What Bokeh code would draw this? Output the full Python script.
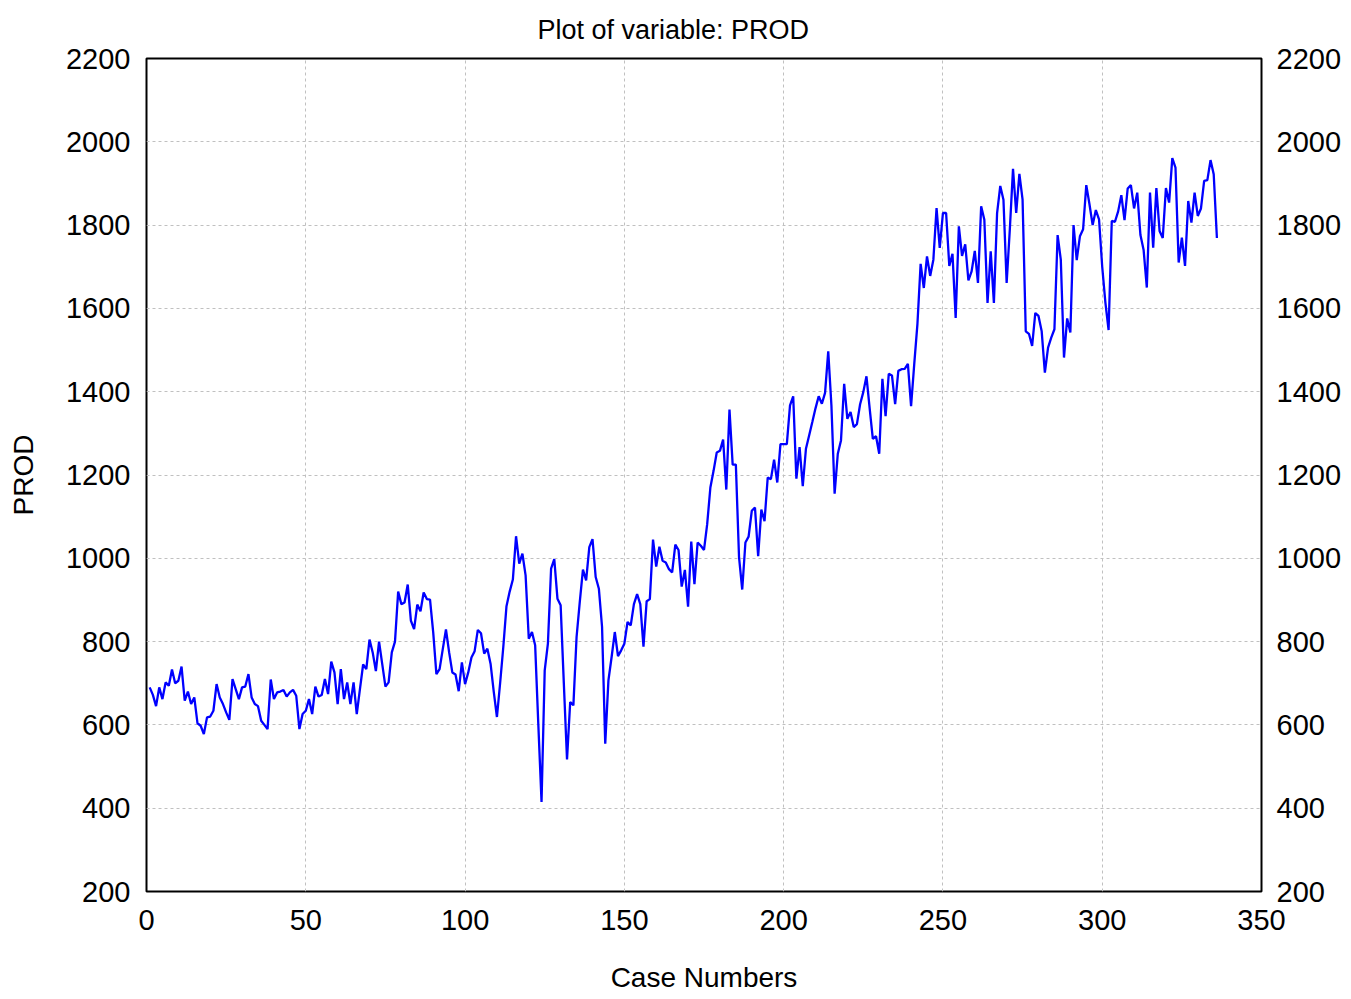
from bokeh.plotting import figure
from bokeh.models import LinearAxis, FixedTicker, Range1d
from bokeh.embed import file_html
from bokeh.resources import INLINE

prod = [
    690, 672, 645, 690, 662, 702, 694, 733, 700, 706,
    740, 658, 680, 650, 666, 604, 598, 578, 618, 620,
    634, 698, 666, 650, 630, 612, 710, 686, 662, 690,
    692, 722, 666, 650, 645, 610, 600, 590, 709, 662,
    678, 680, 684, 668, 678, 684, 670, 590, 626, 634,
    662, 626, 692, 668, 672, 710, 674, 752, 726, 650,
    734, 662, 702, 650, 702, 626, 686, 745, 734, 805,
    774, 729, 800, 746, 692, 702, 774, 800, 920, 890,
    894, 937, 850, 830, 889, 873, 918, 902, 901, 822,
    722, 734, 782, 829, 774, 726, 721, 681, 750, 698,
    726, 762, 777, 828, 820, 771, 783, 747, 680, 619,
    700, 787, 885, 920, 949, 1053, 987, 1011, 959, 807,
    823, 791, 600, 415, 731, 795, 975, 998, 903, 887,
    700, 517, 655, 647, 811, 895, 973, 947, 1027, 1046,
    955, 927, 835, 555, 707, 763, 823, 765, 779, 795,
    847, 839, 890, 914, 890, 788, 897, 902, 1045, 980,
    1028, 994, 990, 974, 966, 1033, 1020, 932, 972, 884,
    1040, 938, 1038, 1030, 1020, 1082, 1170, 1210, 1254, 1258,
    1285, 1165, 1357, 1225, 1225, 1002, 925, 1038, 1052, 1114,
    1122, 1005, 1117, 1089, 1194, 1190, 1237, 1182, 1274, 1274,
    1274, 1367, 1389, 1191, 1267, 1173, 1263, 1295, 1327, 1360,
    1389, 1371, 1397, 1497, 1367, 1155, 1251, 1283, 1419, 1335,
    1351, 1315, 1322, 1370, 1399, 1437, 1360, 1287, 1293, 1251,
    1431, 1341, 1443, 1439, 1370, 1450, 1454, 1455, 1467, 1365,
    1467, 1563, 1707, 1649, 1725, 1678, 1717, 1841, 1745, 1829,
    1829, 1702, 1731, 1577, 1797, 1726, 1754, 1667, 1689, 1738,
    1661, 1845, 1813, 1613, 1737, 1613, 1829, 1894, 1861, 1661,
    1790, 1935, 1829, 1923, 1861, 1545, 1539, 1510, 1589, 1582,
    1545, 1446, 1506, 1530, 1550, 1776, 1717, 1482, 1576, 1542,
    1800, 1716, 1773, 1790, 1896, 1850, 1800, 1836, 1814, 1700,
    1614, 1548, 1810, 1808, 1833, 1872, 1812, 1888, 1896, 1840,
    1878, 1776, 1740, 1650, 1878, 1746, 1889, 1786, 1769, 1889,
    1854, 1961, 1938, 1710, 1770, 1702, 1858, 1806, 1878, 1822,
    1840, 1906, 1908, 1956, 1922, 1769,
]
case_numbers = list(range(1, len(prod) + 1))

x_ticks = [0, 50, 100, 150, 200, 250, 300, 350]
y_ticks = [200, 400, 600, 800, 1000, 1200, 1400, 1600, 1800, 2000, 2200]

FONT = "Liberation Sans"
TICK_SIZE = "29px"

p = figure(
    frame_width=1115, frame_height=833,
    x_range=Range1d(0, 350), y_range=Range1d(200, 2200),
    output_backend="svg", toolbar_location=None,
    title="Plot of variable: PROD",
    min_border_left=146, min_border_right=78,
    min_border_top=58, min_border_bottom=98,
)

p.line(case_numbers, prod, line_color="#0000ff", line_width=2.3)

p.title.text_font = FONT
p.title.text_font_size = "27px"
p.title.text_font_style = "normal"
p.title.align = "left"
p.title.vertical_align = "top"
p.title.text_color = "black"
p.title.offset = 391
p.title.standoff = 23

p.outline_line_color = "black"
p.outline_line_width = 2
p.outline_line_alpha = 1.0

def style_axis(ax, standoff):
    ax.major_tick_line_color = None
    ax.minor_tick_line_color = None
    ax.major_tick_out = 0
    ax.major_tick_in = 0
    ax.minor_tick_out = 0
    ax.minor_tick_in = 0
    ax.axis_line_color = None
    ax.major_label_text_font = FONT
    ax.major_label_text_font_size = TICK_SIZE
    ax.major_label_text_color = "black"
    ax.major_label_standoff = standoff
    ax.axis_label_text_font = FONT
    ax.axis_label_text_font_size = "28px"
    ax.axis_label_text_font_style = "normal"
    ax.axis_label_text_color = "black"

style_axis(p.xaxis[0], 18)
style_axis(p.yaxis[0], 16)
p.xaxis[0].ticker = FixedTicker(ticks=x_ticks)
p.yaxis[0].ticker = FixedTicker(ticks=y_ticks)
p.xaxis[0].axis_label = "Case Numbers"
p.yaxis[0].axis_label = "PROD"
p.xaxis[0].axis_label_standoff = 29
p.yaxis[0].axis_label_standoff = 24

right = LinearAxis(ticker=FixedTicker(ticks=y_ticks))
style_axis(right, 15)
p.add_layout(right, "right")

p.xgrid.ticker = FixedTicker(ticks=x_ticks)
p.ygrid.ticker = FixedTicker(ticks=y_ticks)
for g in [p.xgrid[0], p.ygrid[0]]:
    g.grid_line_color = "#c0c0c0"
    g.grid_line_dash = "3 3"
    g.grid_line_width = 1

open("out.html", "w").write(file_html(p, INLINE))
